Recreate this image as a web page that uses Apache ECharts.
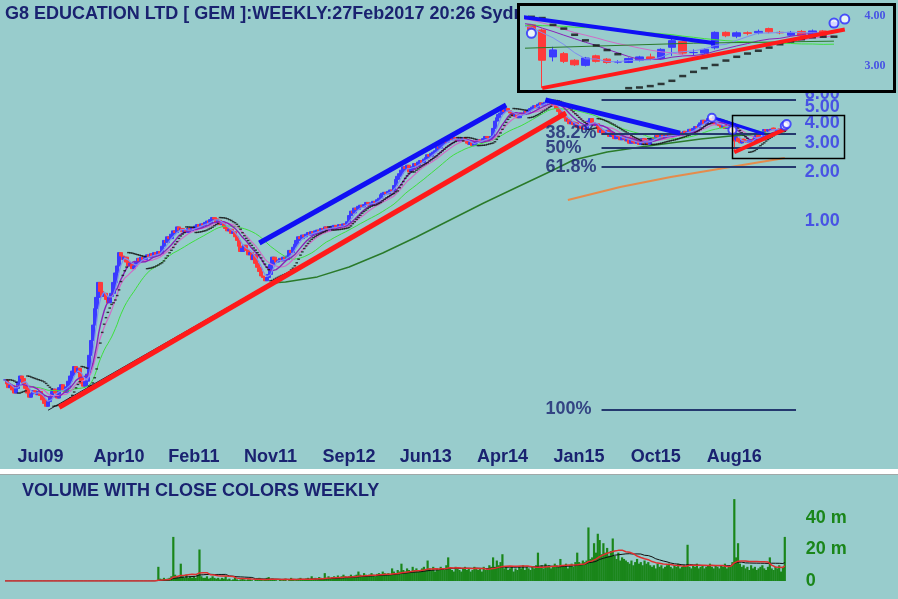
<!DOCTYPE html>
<html><head><meta charset="utf-8">
<script src="https://cdn.jsdelivr.net/npm/echarts@6/dist/echarts.min.js"></script>
<style>html,body{margin:0;padding:0;background:#98cccc}#c{width:898px;height:599px}</style>
</head><body><div id="c"></div>
<script>
// ---------------- DATA ----------------
// weekly closes, weeks 0..389 (week 0 = 2 Mar 2009)
const closeEarly = [
0.106,0.100,0.095, 0.098,0.092,0.088,0.094, 0.103,0.112,0.108,0.100,
0.094,0.088,0.083,0.087,0.091, 0.089,0.086,0.090,0.085,
0.080,0.076,0.073,0.078, 0.084,0.090,0.093,0.088, 0.082,0.095,0.099,0.092,
0.089,0.096,0.104,0.112, 0.120,0.128,0.118,0.125, 0.110,0.101,0.097, 0.104,0.115,
0.150,0.185,0.230, 0.290,0.340,0.420, 0.370,0.345,0.360, 0.330,0.315,0.345,0.360, 0.420,0.480,0.530,
0.640,0.610,0.580,0.600, 0.560,0.530,0.550,0.510,0.530, 0.560,0.590,0.570,0.600,0.580, 0.600,0.620,0.600,0.630,0.610, 0.640,0.620,0.650,0.630,
0.700,0.760,0.740, 0.800,0.780,0.830, 0.870,0.850,0.920,0.880,0.900,0.860, 0.880,0.850,0.900,0.870,0.910,0.890,0.930,
0.950,0.920,0.960,0.940,0.980, 1.000,0.970,1.020,1.050,1.030, 0.980,1.010,0.950,0.970,0.920, 0.900,0.870,0.890,0.840,0.860,
0.800,0.760,0.700,0.650,0.680, 0.710,0.660,0.620,0.640, 0.580,0.620,0.550,0.520, 0.490,0.460,0.450, 0.430,0.450,0.470,
0.540,0.600,0.580,0.560,0.570, 0.590,0.570,0.600,0.580, 0.610,0.660,0.640,0.690,0.720, 0.760,0.800,0.780,0.820,0.800, 0.830,0.850,0.820,0.860,0.840,0.870,
0.880,0.860,0.900,0.890,0.920,0.900,0.880,0.910,0.930, 0.940,0.900,0.920,0.950,0.930,0.960,0.950,0.990, 1.080,1.150,1.120,
1.200,1.180,1.230,1.250,1.220,1.260,1.300,1.280,1.250,1.290,1.320,1.300,1.350,1.380, 1.450,1.480,1.500,1.470,1.520,1.550,1.530, 1.650,1.800,1.880,1.950,
2.050,2.150,2.100,2.200,2.000,2.080,2.150, 2.250,2.200,2.300,2.350,2.280,2.400,2.450, 2.550,2.500,2.600,2.650,2.700, 2.850,2.800,2.950,3.000,3.100,3.050,3.150,3.200,
3.150,3.250,3.200,3.100,3.200,3.150,3.250, 3.100,3.000,2.950,3.050,2.900,3.000,3.100,3.150,3.050, 3.100,3.200,3.300,3.250,3.150,3.300, 3.700,4.100,4.300,4.500,
4.600,4.800,4.700,4.900,4.750,4.600, 4.550,4.400,4.500,4.300,4.450,4.600,4.500,4.700,4.650,4.800,4.900, 5.000,5.100,4.950,5.200,5.300,5.100,5.250,5.350,5.500,5.400, 5.300,5.100,5.200,4.900,4.700,
4.500,4.600,4.300,4.100,4.200,3.950,4.050, 3.900,4.000,3.750,3.850,3.700,3.800,3.650, 3.900,4.100,4.250,4.000,3.850,3.950, 3.700,3.500,3.600,3.400,3.450,
3.600,3.300,3.500,3.350,3.200,3.400,3.300,3.150, 3.300,3.200,3.100,3.250,3.000,3.150,3.050, 3.000,3.100,2.950,3.050,3.200,3.000,3.100,2.950,3.150, 3.250,3.200,3.350,3.300,3.200,3.400,3.250,3.350,3.300,
3.400,3.350,3.300,3.450,3.400,3.500,3.350, 3.450,3.550,3.400,3.500,3.650,3.550,3.700,3.800,3.750, 3.900,4.000,4.150,3.950,4.100,4.250,4.200,4.050,3.950, 3.900,4.000,3.850,3.750,3.850,3.700,3.800, 3.750,3.800,3.700
];
// last 28 weeks (weeks 390..417)
const recentOpen  = [3.69,3.16,3.22,3.10,3.01,3.18,3.12,3.07,3.06,3.10,3.16,3.13,3.34,3.45,3.24,3.23,3.33,3.64,3.56,3.63,3.63,3.72,3.64,3.58,3.66,3.58,3.67,3.76];
const recentClose = [3.10,3.29,3.08,3.02,3.14,3.08,3.06,3.07,3.13,3.16,3.12,3.30,3.47,3.23,3.24,3.30,3.64,3.57,3.63,3.62,3.66,3.65,3.63,3.64,3.57,3.67,3.58,3.85];
const recentHigh  = [3.72,3.35,3.25,3.12,3.16,3.20,3.14,3.10,3.15,3.18,3.22,3.32,3.52,3.47,3.30,3.32,3.66,3.66,3.66,3.66,3.70,3.74,3.67,3.67,3.69,3.70,3.69,3.88];
const recentLow   = [2.64,3.08,3.05,3.00,2.99,3.06,3.04,3.04,3.05,3.08,3.10,3.11,3.18,3.20,3.18,3.21,3.30,3.54,3.52,3.58,3.60,3.62,3.60,3.56,3.55,3.56,3.55,3.74];
// weekly volume, millions (weeks 0..417)
const volume = [
0,0,0,0,0,0,0,0,0,0,0,0,0,0,0,0,0,0,0,0,
0,0,0,0,0,0,0,0,0,0,0,0,0,0,0,0,0,0,0,0,
0,0,0,0,0,0,0,0,0,0,0,0,0,0,0,0,0,0,0,0,
0,0,0,0,0,0,0,0,0,0,0,0,0,0,0,0,0,0,0,0,
0,0,
9, 1.5,1,2,1,1.5,2,3, 28, 4,3,2, 11, 3,2,4,2,3,2,3,2,4, 20,
3,2,2,3,1.5,2,3,2,1.5,2,1,2,1.5,
3,1,1.5,0.5,1,2,1,0.5,1,1.5,1,0.5,1,
1,0.5,0,1,1.5,2,1,0.5,1,2,2.5,1,1.5,1,0.5,
0,1,0.5,1,1.5,0,1,2,1,0.5,1,1.5,2,1,1,
1.5,2,1,3,1.5,2,1,2.5,2,1.5,
5, 2,3,2,2.5,3,2,3.5,2,3,4,3,2.5,3,4,3,3.5,4,
6, 4,3,5,4,3.5,4,5,4,3,4.5,5,4,6,5,4,5,4.5,
8, 6,5,7,6, 11, 7,6,8,7,6,9,7,8,6,7,8,9,7,
13, 8,7,9,6,8,7,9,8,7,10, 15,
8,7,6,9,8,7,6,8,9,7,8,6,7,9,8,7,8,6,9,7,8,10,9,
15, 9, 13,10,12, 17,
8,9,7,8,9,6,8,7,9,8,10,7,9,8,7,9,8,10,
18, 9,10,8,11,9,10,8,9,11,10,9, 14, 10,9,11,8,10,11,9,12, 18, 12,11,13,12,13,
34,14,15,24,18,30,26,17,24,18,21,16,19,27,
16,14,18,13,15,14,13,
12,11,13,10,12,14,11,12,10,13,11,12,10,
9,10,8,11,9,10,8,9,10,11,9,8,10,9,11,8,9,10,9,
23,
9,8,10,9,11,8,9,10,8,9,10,11,9,8,10,9,8,10,9,11,8,9,10,12,
52,15,24,
11,9,10,8,9,7,10,8,9,7,8,9,10,8,7,9,15,8,7,9,8,10,6,9,
28
];
// long averages: [week, price]
const darkGreenLine = [[142,0.416],[150,0.422],[167,0.454],[184,0.522],[202,0.636],[220,0.798],[238,1.014],[256,1.289],[274,1.616],[291,1.998],[304,2.366],[322,2.65],[340,2.84],[356,3.01],[372,3.18],[388,3.32],[404,3.42],[417,3.46]];
const orangeLine = [[301,1.345],[329,1.616],[356,1.861],[388,2.143],[417,2.435]];
// trend lines: [week, price]
const blueTrendA = [[136,0.733],[268,5.15]];
const blueTrendB = [[289,5.53],[361,3.46]];
const blueTrendC = [[378,4.33],[406,3.42]];
const redTrendA  = [[29,0.072],[300,4.6]];
const redTrendB  = [[390,2.64],[418,3.70]];
const blackTrend = [[23,0.069],[158,0.53]];
const circleMarks = [[378,4.30],[389,3.62],[417,3.84],[418,3.93]];
// fibonacci retracement
const fibHigh = 5.53, fibLow = 0.070;
const fibLevels = [0, 0.382, 0.5, 0.618, 1];
const fibTexts  = ['', '38.2%', '50%', '61.8%', '100%'];
// axes
const priceTicks = [1, 2, 3, 4, 5, 6];
const insetTicks = [3, 4];
const tickIdx  = [19, 61, 101, 142, 184, 225, 266, 307, 348, 390];
const tickText = ['Jul09','Apr10','Feb11','Nov11','Sep12','Jun13','Apr14','Jan15','Oct15','Aug16'];
const titleText = 'G8 EDUCATION LTD [ GEM ]:WEEKLY:27Feb2017 20:26 Sydney';
const volTitle = 'VOLUME WITH CLOSE COLORS WEEKLY';

// ---------------- BUILD ----------------
const NSLOT = 426;
const cats = [];
const t0 = Date.UTC(2009, 2, 2);
for (let i = 0; i < NSLOT; i++) cats.push(new Date(t0 + i * 7 * 864e5).toISOString().slice(0, 10));

const closeAll = closeEarly.concat(recentClose);
const NE = closeEarly.length;
const openAll = closeAll.map((c, i) => i < NE ? (i === 0 ? c : closeAll[i - 1]) : recentOpen[i - NE]);
const highAll = closeAll.map((c, i) => i < NE ? Math.max(c, openAll[i]) : recentHigh[i - NE]);
const lowAll  = closeAll.map((c, i) => i < NE ? Math.min(c, openAll[i]) : recentLow[i - NE]);
const ohlc = closeAll.map((c, i) => [openAll[i], c, lowAll[i], highAll[i]]);

function sma(arr, n) {
  return arr.map((_, i) => { const s = Math.max(0, i - n + 1); let t = 0; for (let k = s; k <= i; k++) t += arr[k]; return +(t / (i - s + 1)).toFixed(4); });
}
function psar(h, l, step, mx) {
  const out = new Array(h.length).fill(null);
  let up = false, af = step, ep = l[0], sar = h[0];
  for (let i = 1; i < h.length; i++) {
    sar = sar + af * (ep - sar);
    if (up) {
      sar = Math.min(sar, l[i - 1], l[Math.max(0, i - 2)]);
      if (l[i] < sar) { up = false; sar = ep; ep = l[i]; af = step; }
      else if (h[i] > ep) { ep = h[i]; af = Math.min(af + step, mx); }
    } else {
      sar = Math.max(sar, h[i - 1], h[Math.max(0, i - 2)]);
      if (h[i] > sar) { up = true; sar = ep; ep = h[i]; af = step; }
      else if (l[i] < ep) { ep = l[i]; af = Math.min(af + step, mx); }
    }
    out[i] = +sar.toFixed(4);
  }
  return out;
}
const ma5 = sma(closeAll, 5), ma10 = sma(closeAll, 10), ma15 = sma(closeAll, 15), ma30 = sma(closeAll, 30);
const sar = psar(highAll, lowAll, 0.02, 0.2);
const volMa20 = sma(volume, 20), volMa30 = sma(volume, 30);
const fibPrices = fibLevels.map(f => fibHigh - f * (fibHigh - fibLow));

const NAVY = '#1a2270', BLUE = '#3434ea', GREEN = '#1a861a', BG = '#98cccc';
const FONT = "'Liberation Sans', Arial, sans-serif";
const UPC = '#3a3aff', DNC = '#ff3a3a';

function seg(name, pts, color, width, ax, z) {
  return { type: 'line', name, xAxisIndex: ax, yAxisIndex: ax, data: pts, symbol: 'none', silent: true,
    lineStyle: { color, width }, z };
}
function maLine(data, color, width, ax, z) {
  return { type: 'line', xAxisIndex: ax, yAxisIndex: ax, data, symbol: 'none', silent: true,
    lineStyle: { color, width }, z };
}

const chart = echarts.init(document.getElementById('c'), null, { renderer: 'canvas' });
const mainGrid = { left: 4.07, top: 90, width: NSLOT * 1.87, height: 340 };
const volGrid = { left: 4.07, top: 476, width: NSLOT * 1.87, height: 105 };
const insetGrid = { left: 526, top: 7, width: 335, height: 82 };

const series = [];
// ---- main panel
series.push({ type: 'candlestick', xAxisIndex: 0, yAxisIndex: 0, data: ohlc, barWidth: 4, z: 2, silent: true,
  itemStyle: { color: UPC, color0: DNC, borderColor: UPC, borderColor0: DNC, borderWidth: 1 } });
series.push(maLine(ma30, '#3ee03e', 1, 0, 3));
series.push(maLine(ma15, '#d26ac8', 1.2, 0, 3));
series.push(maLine(ma10, '#8a22b8', 1.4, 0, 3));
series.push(maLine(ma5, '#7f8cf0', 1.2, 0, 3));
series.push(seg('darkgreen', darkGreenLine, '#2a7a2a', 1.5, 0, 3));
series.push(seg('orange', orangeLine, '#e58c4c', 2, 0, 3));
series.push({ type: 'scatter', xAxisIndex: 0, yAxisIndex: 0, data: sar, symbol: 'rect', symbolSize: [2.6, 1.4], silent: true,
  itemStyle: { color: '#111' }, z: 4 });
series.push(seg('blackT', blackTrend, '#223', 1, 0, 4));
series.push(seg('blueA', blueTrendA, '#1010f5', 5, 0, 5));
series.push(seg('blueB', blueTrendB, '#1010f5', 5, 0, 5));
series.push(seg('blueC', blueTrendC, '#1010f5', 3, 0, 5));
series.push(seg('redA', redTrendA, '#ff1a1a', 5, 0, 5));
series.push(seg('redB', redTrendB, '#ff1a1a', 4, 0, 5));
series.push({ type: 'scatter', xAxisIndex: 0, yAxisIndex: 0, data: circleMarks, symbol: 'emptyCircle', symbolSize: 8, silent: true,
  itemStyle: { color: '#2a2aff', borderWidth: 1.2 }, z: 5 });
// fib labels + lines
series.push({ type: 'scatter', xAxisIndex: 0, yAxisIndex: 0, silent: true, z: 6, symbolSize: 0,
  data: fibLevels.map((f, k) => [289, fibPrices[k], fibTexts[k]]).filter(d => d[2]),
  label: { show: true, position: 'right', distance: 0, formatter: p => p.data[2], color: NAVY, fontSize: 18, fontWeight: 'bold', fontFamily: FONT },
  markLine: { silent: true, symbol: 'none', label: { show: false }, lineStyle: { color: '#24386e', width: 2, type: 'solid' },
    data: fibPrices.map(p => [{ coord: [319, p] }, { coord: [423, p] }]) } });
// price axis labels
series.push({ type: 'scatter', xAxisIndex: 0, yAxisIndex: 0, silent: true, z: 6, symbolSize: 0, clip: false,
  data: priceTicks.map(v => [NSLOT - 1, v]),
  label: { show: true, position: 'right', distance: 5, formatter: p => p.data[1].toFixed(2), color: BLUE, fontSize: 18, fontWeight: 'bold', fontFamily: FONT } });

// ---- volume panel
series.push({ type: 'bar', xAxisIndex: 1, yAxisIndex: 1, data: volume, barWidth: 2.2, silent: true, itemStyle: { color: GREEN }, z: 2 });
series.push(maLine(volMa30, '#111', 1, 1, 3));
series.push(maLine(volMa20, '#e03030', 1.5, 1, 4));

// ---- inset panel
const IZ = 60;
series.push({ type: 'candlestick', xAxisIndex: 2, yAxisIndex: 2, data: ohlc, barWidth: 8, z: IZ, silent: true,
  itemStyle: { color: UPC, color0: DNC, borderColor: UPC, borderColor0: DNC, borderWidth: 1 } });
series.push(maLine(ma30, '#3ee03e', 1, 2, IZ + 1));
series.push(maLine(ma15, '#d26ac8', 1, 2, IZ + 1));
series.push(maLine(ma10, '#8a22b8', 1, 2, IZ + 1));
series.push(maLine(ma5, '#7f8cf0', 1, 2, IZ + 1));
series.push(seg('darkgreen2', darkGreenLine, '#2a7a2a', 1, 2, IZ + 1));
series.push({ type: 'scatter', xAxisIndex: 2, yAxisIndex: 2, data: sar, symbol: 'rect', symbolSize: [7, 2.5], silent: true,
  itemStyle: { color: '#111' }, z: IZ + 2 });
series.push(seg('blueC2', blueTrendC, '#1010f5', 4, 2, IZ + 3));
series.push(seg('blueB2', blueTrendB, '#1010f5', 4, 2, IZ + 3));
series.push(seg('redB2', redTrendB, '#ff1a1a', 4, 2, IZ + 3));
series.push({ type: 'scatter', xAxisIndex: 2, yAxisIndex: 2, data: circleMarks, symbol: 'emptyCircle', symbolSize: 9, silent: true,
  itemStyle: { color: '#2a2aff', borderWidth: 1.2 }, z: IZ + 3 });
series.push({ type: 'scatter', xAxisIndex: 2, yAxisIndex: 2, silent: true, z: IZ + 4, symbolSize: 0, clip: false,
  data: insetTicks.map(v => [419, v]),
  label: { show: true, position: 'right', distance: 9, formatter: p => p.data[1].toFixed(2), color: BLUE, fontSize: 12, fontWeight: 'bold', fontFamily: "'Liberation Serif', serif" },
  markLine: { silent: true, symbol: 'none', label: { show: false }, lineStyle: { color: '#1c2a70', width: 1.5, type: 'solid' },
    data: [{ yAxis: fibPrices[1] }, { yAxis: fibPrices[2] }] } });

const hiddenX = (gi, extra) => Object.assign({ type: 'category', gridIndex: gi, data: cats, boundaryGap: true,
  axisLine: { show: false }, axisTick: { show: false }, axisLabel: { show: false }, splitLine: { show: false } }, extra || {});

const option = {
  backgroundColor: BG,
  animation: false,
  grid: [mainGrid, volGrid, insetGrid],
  xAxis: [
    hiddenX(0, { axisLabel: { show: true, interval: (idx) => tickIdx.includes(idx), formatter: (v, idx) => tickText[tickIdx.indexOf(idx)] || '',
      color: NAVY, fontSize: 18, fontWeight: 'bold', fontFamily: FONT, margin: 18 } }),
    hiddenX(1),
    hiddenX(2, { min: 389, max: 419, z: IZ })
  ],
  yAxis: [
    { type: 'log', gridIndex: 0, min: 0.05222, max: 6.364, position: 'right', axisLine: { show: false }, axisTick: { show: false }, axisLabel: { show: false }, splitLine: { show: false } },
    { type: 'value', gridIndex: 1, min: 0, max: 66.67, interval: 20, position: 'right', axisLine: { show: false }, axisTick: { show: false }, splitLine: { show: false },
      axisLabel: { showMaxLabel: false, margin: 5, formatter: v => v === 0 ? '0' : (v === 20 || v === 40 ? v + ' m' : ''), color: GREEN, fontSize: 18, fontWeight: 'bold', fontFamily: FONT } },
    { type: 'log', gridIndex: 2, min: 2.627, max: 4.212, position: 'right', z: IZ, axisLine: { show: false }, axisTick: { show: false }, axisLabel: { show: false }, splitLine: { show: false } }
  ],
  graphic: [
    { type: 'text', left: 5, top: 5, z: 1, style: { text: titleText, fill: NAVY, font: "bold 18px 'Liberation Sans', Arial, sans-serif" } },
    { type: 'rect', z: 1, shape: { x: 0, y: 469, width: 898, height: 5 }, style: { fill: '#ffffff' } },
    { type: 'rect', z: 1, shape: { x: 0, y: 474, width: 898, height: 1 }, style: { fill: '#a0a8a8' } },
    { type: 'text', left: 22, top: 482, z: 1, style: { text: volTitle, fill: NAVY, font: "bold 18px 'Liberation Sans', Arial, sans-serif" } },
    { type: 'rect', z: 50, shape: { x: 518.5, y: 4.5, width: 376, height: 87 }, style: { fill: BG, stroke: '#000', lineWidth: 3 } }
  ],
  series
};
chart.setOption(option);
// zoom box around the last weeks on the main chart
const pA = chart.convertToPixel({ gridIndex: 0 }, [389, 4.47]);
const pB = chart.convertToPixel({ gridIndex: 0 }, [NSLOT - 1, 2.43]);
chart.setOption({ graphic: option.graphic.concat([
  { type: 'rect', z: 20, shape: { x: Math.round(pA[0]) + 0.5, y: Math.round(pA[1]) + 0.5, width: Math.round(pB[0] - pA[0] + 45), height: Math.round(pB[1] - pA[1]) },
    style: { fill: 'none', stroke: '#000', lineWidth: 1.5 } }
]) });
</script></body></html>
